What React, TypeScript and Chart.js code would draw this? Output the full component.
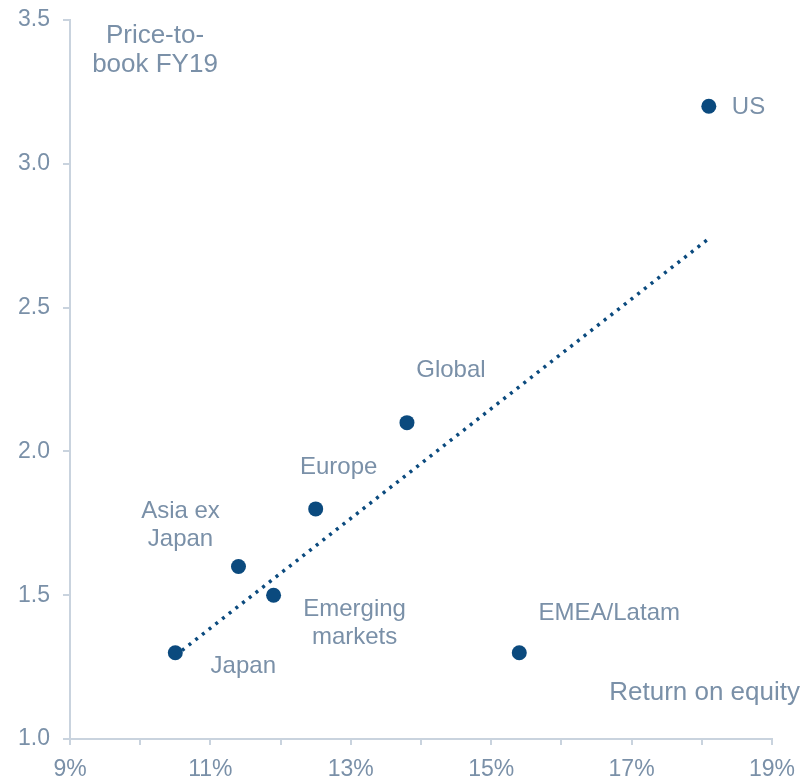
import React, { useEffect, useRef } from "react";
import { Chart, registerables } from "chart.js";

Chart.register(...registerables);

const regions = ["US", "Global", "Europe", "Asia ex Japan", "Emerging markets", "Japan", "EMEA/Latam"];
const roe = [18.1, 13.8, 12.5, 11.4, 11.9, 10.5, 15.4];
const priceToBook = [3.2, 2.1, 1.8, 1.6, 1.5, 1.3, 1.3];
const trendX = [10.5, 18.1];
const trendY = [1.29, 2.74];
const xTicks = [9, 11, 13, 15, 17, 19];
const yTicks = [1.0, 1.5, 2.0, 2.5, 3.0, 3.5];

const TEXT = "#7a90a8";
const POINT = "#0b4a7e";
const AXIS = "#c9d3de";
const FONT = "'Liberation Sans', Arial, sans-serif";

// label placement (pixel offsets from the point, lines of text)
const labelPlacement: Record<string, { dx: number; dy: number; lines: string[]; align: CanvasTextAlign }> = {
  "US": { dx: 23, dy: 1, lines: ["US"], align: "left" },
  "Global": { dx: 44, dy: -52, lines: ["Global"], align: "center" },
  "Europe": { dx: 23, dy: -42, lines: ["Europe"], align: "center" },
  "Asia ex Japan": { dx: -58, dy: -55, lines: ["Asia ex", "Japan"], align: "center" },
  "Emerging markets": { dx: 81, dy: 14, lines: ["Emerging", "markets"], align: "center" },
  "Japan": { dx: 68, dy: 14, lines: ["Japan"], align: "center" },
  "EMEA/Latam": { dx: 90, dy: -39, lines: ["EMEA/Latam"], align: "center" },
};

const labelsPlugin = {
  id: "pointLabels",
  afterDatasetsDraw(chart: any) {
    const ctx = chart.ctx;
    const meta = chart.getDatasetMeta(1);
    ctx.save();
    ctx.fillStyle = TEXT;
    ctx.font = `24px ${FONT}`;
    ctx.textBaseline = "middle";
    meta.data.forEach((el: any, i: number) => {
      const p = labelPlacement[regions[i]];
      if (!p) return;
      ctx.textAlign = p.align;
      p.lines.forEach((line, j) => {
        ctx.fillText(line, el.x + p.dx, el.y + p.dy + j * 28);
      });
    });
    // axis titles
    const area = chart.chartArea;
    ctx.font = `26px ${FONT}`;
    ctx.textAlign = "center";
    ctx.fillText("Price-to-", area.left + 85, area.top + 16);
    ctx.fillText("book FY19", area.left + 85, area.top + 45);
    ctx.textAlign = "right";
    ctx.fillText("Return on equity", area.right + 28, area.bottom - 46);
    ctx.restore();
  },
};

export default function App() {
  const ref = useRef<HTMLCanvasElement>(null);
  useEffect(() => {
    document.body.style.margin = "0";
    const chart = new Chart(ref.current as HTMLCanvasElement, {
      type: "scatter",
      data: {
        datasets: [
          {
            type: "line",
            data: trendX.map((x, i) => ({ x, y: trendY[i] })),
            borderColor: POINT,
            borderWidth: 3.5,
            borderDash: [3, 5.5],
            pointRadius: 0,
            fill: false,
          } as any,
          {
            data: roe.map((x, i) => ({ x, y: priceToBook[i] })),
            backgroundColor: POINT,
            borderColor: POINT,
            pointRadius: 7.5,
            pointHoverRadius: 7.5,
            borderWidth: 0,
          },
        ],
      },
      options: {
        animation: false,
        responsive: false,
        devicePixelRatio: 1,
        layout: { padding: { top: 20, right: 32, left: 0, bottom: 0 } },
        plugins: { legend: { display: false }, tooltip: { enabled: false } },
        scales: {
          x: {
            type: "linear",
            min: 9,
            max: 19,
            afterFit: (s: any) => { s.height = 39; s.paddingLeft = 0; s.paddingRight = 0; },
            ticks: {
              stepSize: 1,
              color: TEXT,
              font: { size: 23, family: FONT },
              padding: 11,
              maxRotation: 0,
              autoSkip: false,
              callback: (v: any) => (xTicks.includes(Number(v)) ? `${v}%` : ""),
            },
            grid: { drawOnChartArea: false, tickLength: 6, color: AXIS, lineWidth: 2 },
            border: { color: AXIS, width: 2 },
          },
          y: {
            type: "linear",
            min: 1,
            max: 3.5,
            afterFit: (s: any) => { s.width = 70; s.paddingTop = 0; s.paddingBottom = 0; },
            ticks: {
              stepSize: 0.5,
              color: TEXT,
              font: { size: 23, family: FONT },
              padding: 13,
              callback: (v: any) => (yTicks.includes(Number(v)) ? Number(v).toFixed(1) : ""),
            },
            grid: { drawOnChartArea: false, tickLength: 7, color: AXIS, lineWidth: 2 },
            border: { color: AXIS, width: 2 },
          },
        },
      },
      plugins: [labelsPlugin],
    });
    return () => chart.destroy();
  }, []);
  return (
    <div style={{ position: "fixed", left: 0, top: 0, width: 804, height: 778 }}>
      <canvas ref={ref} width={804} height={778} style={{ display: "block" }} />
    </div>
  );
}
